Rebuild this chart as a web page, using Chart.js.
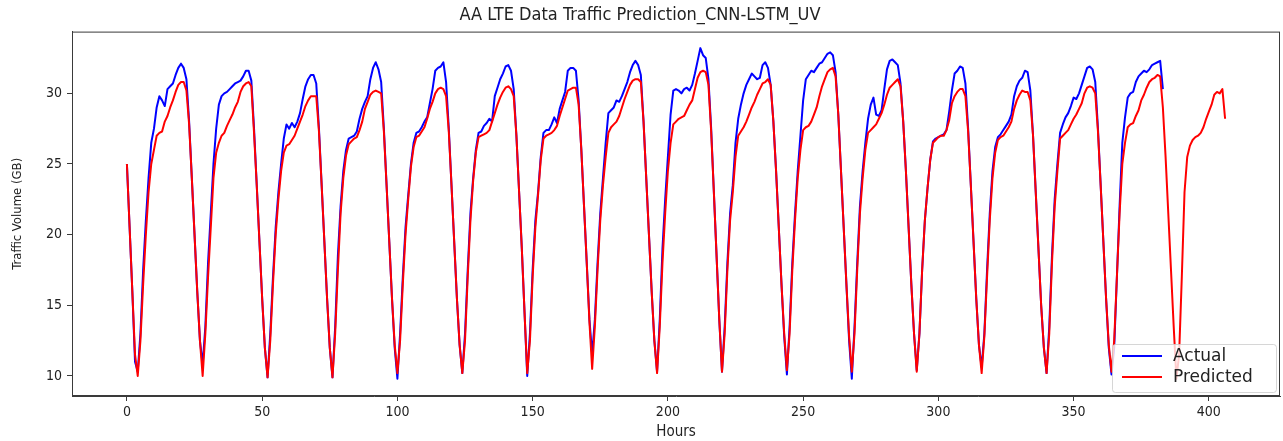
<!DOCTYPE html>
<html>
<head>
<meta charset="utf-8">
<script src="https://cdn.jsdelivr.net/npm/chart.js@4.4.1/dist/chart.umd.min.js"></script>
<style>
    html, body { margin: 0; padding: 0; background: #fff; }
    #wrap { width: 1283px; height: 441px; }
</style>
</head>
<body>
<div id="wrap"><canvas id="trafficChart" width="1283" height="441"></canvas></div>
<script>
/* AA LTE data traffic — actual vs CNN-LSTM prediction (hourly) */

// hourly values, one row per day (min to min)
const actual = [
    25.0, 20.5, 16.0, 11.0, 10.3, 13.0, 17.5, 21.0, 24.0, 26.5, 27.5, 29.0, 29.8, 29.5, 29.1, 30.3, 30.5, 30.7, 31.3, 31.8, 32.1, 31.8, 31.0, 28.0, 24.0, 20.0, 16.0, 12.5, 10.8,
    13.5, 18.0, 21.5, 25.0, 27.5, 29.2, 29.8, 30.0, 30.1, 30.3, 30.5, 30.7, 30.8, 30.9, 31.2, 31.6, 31.6, 30.9, 27.5, 23.5, 19.5, 15.5, 12.0, 9.9,
    13.0, 17.0, 20.5, 23.0, 25.0, 26.8, 27.8, 27.5, 27.9, 27.6, 28.0, 28.6, 29.6, 30.5, 31.0, 31.3, 31.3, 30.7, 27.5, 23.5, 19.5, 15.5, 12.0, 9.9,
    13.5, 18.5, 22.0, 24.5, 26.0, 26.8, 26.9, 27.0, 27.3, 28.2, 28.9, 29.4, 29.8, 31.0, 31.8, 32.2, 31.7, 30.8, 27.5, 23.5, 19.5, 15.5, 12.0, 9.8,
    13.0, 17.0, 20.5, 22.8, 25.0, 26.5, 27.2, 27.3, 27.6, 28.0, 28.3, 29.3, 30.3, 31.6, 31.8, 31.9, 32.2, 30.8, 27.5, 23.5, 19.5, 15.5, 12.2, 10.2,
    13.0, 17.5, 21.5, 24.0, 26.0, 27.2, 27.3, 27.7, 27.9, 28.2, 28.0, 29.8, 30.4, 31.0, 31.4, 31.9, 32.0, 31.6, 30.3, 27.0, 23.0, 19.0, 14.5, 10.0,
    13.0, 17.5, 21.0, 23.0, 25.5, 27.2, 27.4, 27.4, 27.8, 28.3, 27.9, 28.9, 29.5, 30.1, 31.6, 31.8, 31.8, 31.6, 29.5, 26.0, 22.0, 18.0, 14.0, 11.5,
    14.0, 18.0, 21.5, 24.0, 26.5, 28.6, 28.8, 29.0, 29.5, 29.4, 29.8, 30.3, 30.8, 31.5, 32.0, 32.3, 32.0, 31.3, 28.0, 24.0, 20.0, 16.0, 12.5, 10.3,
    14.0, 19.0, 22.5, 25.5, 28.5, 30.2, 30.3, 30.2, 30.0, 30.3, 30.4, 30.2, 30.6, 31.4, 32.3, 33.2, 32.7, 32.5, 31.0, 27.5, 23.0, 18.5, 14.0, 10.3,
    13.5, 18.0, 21.5, 23.5, 26.5, 28.2, 29.2, 30.0, 30.6, 31.0, 31.4, 31.2, 31.0, 31.1, 32.0, 32.2, 31.8, 30.6, 28.0, 24.5, 20.5, 16.5, 12.8, 10.1,
    13.5, 18.0, 21.5, 24.5, 27.0, 29.5, 31.0, 31.3, 31.6, 31.5, 31.8, 32.1, 32.2, 32.5, 32.8, 32.9, 32.7, 31.5, 28.5, 24.5, 20.5, 16.5, 12.5, 9.8,
    13.5, 18.0, 22.0, 24.5, 26.5, 28.2, 29.2, 29.7, 28.5, 28.4, 28.8, 30.3, 31.7, 32.3, 32.4, 32.2, 32.0, 30.7, 28.0, 24.5, 20.5, 16.5, 13.0, 10.4,
    13.0, 17.5, 21.0, 23.3, 25.3, 26.6, 26.8, 26.9, 27.0, 27.1, 27.4, 28.7, 30.2, 31.4, 31.6, 31.9, 31.8, 30.7, 27.5, 23.5, 19.5, 15.5, 12.2, 10.6,
    13.0, 17.5, 21.5, 24.5, 26.2, 26.9, 27.1, 27.4, 27.7, 28.0, 28.5, 29.8, 30.5, 30.9, 31.1, 31.6, 31.5, 30.2, 27.0, 23.0, 19.0, 15.0, 12.0, 10.2,
    13.5, 18.5, 22.5, 25.0, 27.2, 27.8, 28.3, 28.6, 29.1, 29.7, 29.6, 30.0, 30.6, 31.2, 31.8, 31.9, 31.7, 30.8, 27.5, 23.5, 19.5, 15.5, 12.0, 10.1,
    12.0, 17.0, 22.0, 26.5, 28.3, 29.7, 30.0, 30.1, 30.8, 31.2, 31.4, 31.6, 31.5, 31.7, 32.0, 32.1, 32.2, 32.3, 30.3
];

const predicted = [
    25.0, 20.5, 16.0, 11.5, 10.0, 12.5, 16.5, 20.0, 23.0, 25.0, 26.0, 27.0, 27.2, 27.3, 28.0, 28.4, 29.0, 29.5, 30.1, 30.6, 30.8, 30.8, 30.2, 27.8, 24.0, 20.0, 16.0, 12.5, 10.0,
    13.0, 17.0, 20.5, 24.0, 25.8, 26.5, 27.0, 27.2, 27.7, 28.1, 28.5, 29.0, 29.4, 30.1, 30.5, 30.7, 30.8, 30.5, 27.2, 23.5, 19.5, 15.5, 12.0, 9.9,
    12.5, 16.5, 20.0, 22.5, 24.5, 25.8, 26.3, 26.4, 26.7, 27.0, 27.5, 28.0, 28.5, 29.1, 29.5, 29.8, 29.8, 29.8, 27.3, 23.5, 19.5, 15.5, 12.0, 9.9,
    13.0, 17.5, 21.5, 24.0, 25.6, 26.4, 26.6, 26.8, 26.9, 27.4, 28.0, 28.9, 29.4, 29.9, 30.1, 30.2, 30.1, 30.0, 27.3, 23.5, 19.5, 15.5, 12.2, 10.2,
    12.5, 16.5, 20.0, 22.5, 24.8, 26.2, 26.9, 27.0, 27.3, 27.6, 28.2, 28.9, 29.4, 30.0, 30.3, 30.4, 30.3, 29.8, 27.3, 23.5, 19.5, 15.5, 12.2, 10.2,
    12.5, 17.0, 21.0, 23.8, 25.8, 26.9, 27.0, 27.1, 27.2, 27.4, 28.0, 28.6, 29.2, 29.7, 30.1, 30.4, 30.5, 30.3, 29.8, 27.0, 23.0, 19.0, 14.5, 10.2,
    12.5, 17.0, 20.5, 22.8, 25.3, 26.8, 27.0, 27.1, 27.2, 27.4, 27.7, 28.4, 29.0, 29.6, 30.2, 30.3, 30.4, 30.4, 29.2, 26.0, 22.0, 18.0, 13.8, 10.5,
    13.5, 17.5, 21.0, 23.5, 25.5, 27.2, 27.6, 27.8, 28.0, 28.4, 29.0, 29.6, 30.1, 30.6, 30.9, 31.0, 31.0, 30.8, 28.0, 24.0, 20.0, 16.0, 12.5, 10.2,
    13.5, 18.0, 21.5, 24.5, 26.5, 27.8, 28.0, 28.2, 28.3, 28.4, 28.8, 29.2, 29.5, 30.3, 31.1, 31.5, 31.6, 31.5, 30.6, 27.3, 23.0, 18.5, 14.0, 10.3,
    13.0, 17.5, 21.0, 23.0, 25.5, 27.0, 27.3, 27.6, 28.0, 28.5, 29.0, 29.4, 29.9, 30.3, 30.7, 30.8, 31.0, 30.6, 28.0, 24.5, 20.5, 16.5, 13.0, 10.4,
    13.0, 17.5, 21.0, 24.0, 26.0, 27.4, 27.6, 27.7, 28.0, 28.5, 29.0, 29.8, 30.5, 31.0, 31.5, 31.7, 31.8, 31.2, 28.5, 24.5, 20.5, 16.5, 12.8, 10.3,
    13.0, 17.5, 21.5, 24.0, 26.0, 27.2, 27.4, 27.6, 27.8, 28.2, 28.6, 29.2, 29.9, 30.4, 30.6, 30.8, 31.0, 30.5, 28.0, 24.5, 20.5, 16.5, 13.0, 10.3,
    13.0, 17.5, 21.0, 23.3, 25.3, 26.5, 26.7, 26.9, 27.0, 27.0, 27.4, 28.1, 29.3, 29.8, 30.1, 30.3, 30.3, 29.8, 27.3, 23.5, 19.5, 15.5, 12.2, 10.2,
    12.8, 17.0, 21.0, 24.0, 25.8, 26.7, 26.9, 27.0, 27.3, 27.6, 28.0, 28.9, 29.5, 29.9, 30.2, 30.1, 30.1, 29.5, 27.0, 23.0, 19.0, 15.0, 12.0, 10.2,
    13.0, 18.0, 22.0, 24.5, 26.8, 27.0, 27.2, 27.4, 27.8, 28.2, 28.5, 28.9, 29.3, 30.0, 30.4, 30.5, 30.4, 30.0, 27.3, 23.5, 19.5, 15.5, 12.2, 10.3,
    12.5, 17.0, 21.5, 25.0, 26.5, 27.6, 27.8, 27.9, 28.4, 28.8, 29.5, 29.9, 30.4, 30.8, 31.0, 31.1, 31.3, 31.2, 29.0, 25.5, 21.5, 17.5, 13.5, 9.8,
    11.5, 17.0, 23.0, 25.5, 26.3, 26.7, 26.9, 27.0, 27.2, 27.6, 28.2, 28.7, 29.2, 29.9, 30.1, 30.0, 30.3, 28.2
];

const xTicks = [0, 50, 100, 150, 200, 250, 300, 350, 400];
const yTicks = [10, 15, 20, 25, 30];

const narrowFont = '"Liberation Sans Narrow", "DejaVu Sans Condensed", "DejaVu Sans", sans-serif';
const axisColor = '#3a3a3a';

// matplotlib-style box around the plot area
const frameBox = {
    id: 'frameBox',
    afterDatasetsDraw(chart) {
        const { ctx, chartArea: a } = chart;
        ctx.save();
        ctx.strokeStyle = axisColor;
        ctx.lineWidth = 1;
        ctx.strokeRect(a.left + 0.5, a.top + 0.5, a.right - a.left - 1, a.bottom - a.top - 1);
        ctx.restore();
    }
};

// legend box in the lower right corner, inside the axes
const insideLegend = {
    id: 'insideLegend',
    afterDraw(chart) {
        const { ctx, chartArea: a } = chart;
        const w = 164, h = 48;
        const x = a.right - 4 - w, y = a.bottom - 4 - h;
        ctx.save();
        ctx.globalAlpha = 0.8;
        ctx.fillStyle = '#fff';
        ctx.strokeStyle = '#cccccc';
        ctx.lineWidth = 1;
        ctx.beginPath();
        ctx.roundRect(x + 0.5, y + 0.5, w, h, 3);
        ctx.fill();
        ctx.stroke();
        ctx.globalAlpha = 1;
        ctx.font = '17px "DejaVu Sans", sans-serif';
        ctx.textBaseline = 'middle';
        chart.data.datasets.forEach(function (ds, i) {
            const ly = y + 12 + i * 21;
            ctx.strokeStyle = ds.borderColor;
            ctx.lineWidth = 2;
            ctx.beginPath();
            ctx.moveTo(x + 10, ly);
            ctx.lineTo(x + 50, ly);
            ctx.stroke();
            ctx.fillStyle = '#222';
            ctx.fillText(ds.label, x + 61, ly + 1);
        });
        ctx.restore();
    }
};

const ctx = document.getElementById('trafficChart').getContext('2d');

new Chart(ctx, {
    type: 'line',
    data: {
        datasets: [
            {
                label: 'Actual',
                data: actual.map(function (v, i) { return { x: i, y: v }; }),
                borderColor: '#0000ff',
                borderWidth: 2,
                borderJoinStyle: 'round',
                pointRadius: 0,
                tension: 0,
                order: 1,
            },
            {
                label: 'Predicted',
                data: predicted.map(function (v, i) { return { x: i, y: v }; }),
                borderColor: '#ff0000',
                borderWidth: 2,
                borderJoinStyle: 'round',
                pointRadius: 0,
                tension: 0,
                order: 0,
            }
        ]
    },
    options: {
        responsive: false,
        animation: false,
        devicePixelRatio: 1,
        layout: { padding: { left: 0, right: 3, top: 0, bottom: 0 } },
        scales: {
            x: {
                type: 'linear',
                min: -20.3,
                max: 426.3,
                afterBuildTicks: function (s) { s.ticks = xTicks.map(function (v) { return { value: v }; }); },
                afterFit: function (s) { s.height = 45; },
                grid: { drawOnChartArea: false, drawTicks: true, tickLength: 5, color: axisColor },
                border: { color: axisColor },
                ticks: {
                    color: '#222',
                    autoSkip: false,
                    maxRotation: 0,
                    padding: 3,
                    font: { family: narrowFont, size: 14 },
                },
                title: {
                    display: true,
                    text: 'Hours',
                    color: '#222',
                    padding: 0,
                    font: { family: narrowFont, size: 15 },
                }
            },
            y: {
                min: 8.58,
                max: 34.37,
                afterBuildTicks: function (s) { s.ticks = yTicks.map(function (v) { return { value: v }; }); },
                afterFit: function (s) { s.width = 72; },
                grid: { drawOnChartArea: false, drawTicks: true, tickLength: 5, color: axisColor },
                border: { color: axisColor },
                ticks: {
                    color: '#222',
                    autoSkip: false,
                    padding: 5,
                    font: { family: narrowFont, size: 14 },
                },
                title: {
                    display: true,
                    text: 'Traffic Volume (GB)',
                    color: '#222',
                    padding: { top: 10, bottom: 4 },
                    font: { family: narrowFont, size: 13 },
                }
            }
        },
        plugins: {
            legend: { display: false },
            tooltip: { enabled: false },
            title: {
                display: true,
                text: 'AA LTE Data Traffic Prediction_CNN-LSTM_UV',
                color: '#222',
                font: { family: narrowFont, size: 18, weight: 'normal' },
                padding: { top: 5, bottom: 5 },
            }
        }
    },
    plugins: [frameBox, insideLegend]
});
</script>
</body>
</html>
